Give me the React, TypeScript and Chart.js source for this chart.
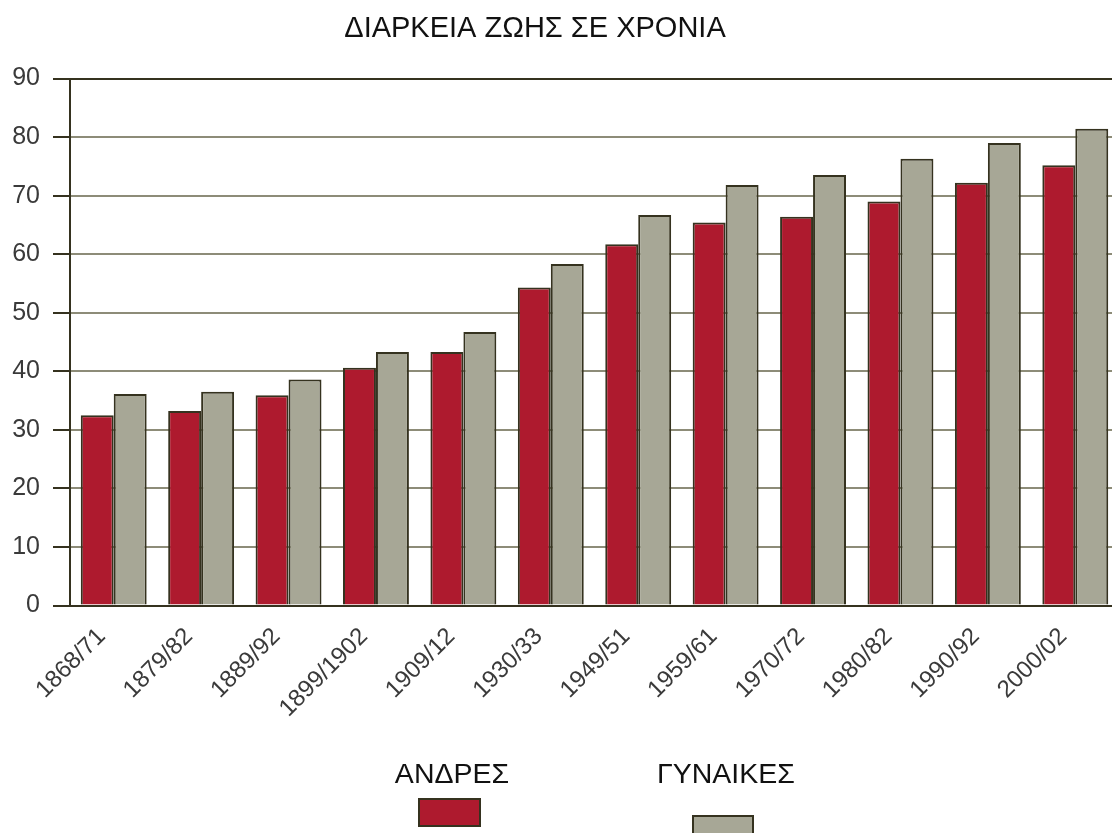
import React, { useEffect, useRef } from "react";
import { Chart, registerables } from "chart.js";

Chart.register(...registerables);

const chartTitle = "ΔΙΑΡΚΕΙΑ ΖΩΗΣ ΣΕ ΧΡΟΝΙΑ";
const categories = [
  "1868/71",
  "1879/82",
  "1889/92",
  "1899/1902",
  "1909/12",
  "1930/33",
  "1949/51",
  "1959/61",
  "1970/72",
  "1980/82",
  "1990/92",
  "2000/02",
];
const menLabel = "ΑΝΔΡΕΣ";
const womenLabel = "ΓΥΝΑΙΚΕΣ";
const menValues = [32.5, 33.2, 35.9, 40.6, 43.3, 54.3, 61.7, 65.4, 66.4, 69.0, 72.2, 75.2];
const womenValues = [36.1, 36.5, 38.6, 43.3, 46.7, 58.3, 66.7, 71.8, 73.5, 76.3, 79.0, 81.4];
const yMin = 0;
const yMax = 90;
const yStep = 10;

const FONT = "'Liberation Sans', Arial, Helvetica, sans-serif";
const DARK = "#35321f";
const GRID = "#8d8c78";

const decorPlugin = {
  id: "decor",
  afterDraw(chart: any) {
    const ctx = chart.ctx;
    ctx.save();
    ctx.fillStyle = "#111";
    ctx.textAlign = "center";
    ctx.textBaseline = "alphabetic";
    ctx.font = `29px ${FONT}`;
    ctx.fillText(chartTitle, 535, 37);

    const textX = [452, 726];
    const boxes = [
      [418, 798, 63, 29],
      [692, 815, 62, 29],
    ];
    chart.data.datasets.forEach((ds: any, i: number) => {
      ctx.fillStyle = "#111";
      ctx.font = `28.5px ${FONT}`;
      ctx.fillText(ds.label, textX[i], 783);
      const [bx, by, bw, bh] = boxes[i];
      ctx.fillStyle = ds.backgroundColor;
      ctx.fillRect(bx, by, bw, bh);
      ctx.strokeStyle = ds.borderColor;
      ctx.lineWidth = 2;
      ctx.strokeRect(bx + 1, by + 1, bw - 2, bh - 2);
    });
    ctx.restore();
  },
};

export default function App() {
  const canvasRef = useRef<HTMLCanvasElement | null>(null);

  useEffect(() => {
    if (!canvasRef.current) return;
    const chart = new Chart(canvasRef.current, {
      type: "bar",
      data: {
        labels: categories,
        datasets: [
          {
            label: menLabel,
            data: menValues,
            backgroundColor: "#ae1a2e",
            borderColor: DARK,
            borderWidth: 2,
            categoryPercentage: 0.754,
            barPercentage: 1.0,
          },
          {
            label: womenLabel,
            data: womenValues,
            backgroundColor: "#a7a796",
            borderColor: DARK,
            borderWidth: 2,
            categoryPercentage: 0.754,
            barPercentage: 1.0,
          },
        ],
      },
      options: {
        animation: false,
        responsive: true,
        maintainAspectRatio: false,
        layout: { padding: { top: 78.5, right: 6, bottom: 0, left: 0 } },
        plugins: {
          legend: { display: false },
          title: { display: false },
          tooltip: { enabled: false },
        },
        scales: {
          x: {
            afterFit(scale: any) {
              scale.height = 227.5;
            },
            grid: { display: false, drawTicks: false },
            border: { display: true, color: DARK, width: 2 },
            ticks: {
              autoSkip: false,
              maxRotation: 45,
              minRotation: 45,
              padding: 17,
              labelOffset: -12,
              color: "#3a3a3a",
              font: { family: FONT, size: 24 },
            },
          },
          y: {
            min: yMin,
            max: yMax,
            afterFit(scale: any) {
              scale.width = 70;
            },
            grid: {
              color: (c: any) =>
                c.tick && (c.tick.value === yMax || c.tick.value === yMin) ? DARK : GRID,
              tickColor: DARK,
              lineWidth: 2,
              tickLength: 17,
            },
            border: { display: true, color: DARK, width: 2 },
            ticks: {
              stepSize: yStep,
              padding: 13,
              color: "#3a3a3a",
              font: { family: FONT, size: 25 },
            },
          },
        },
      },
      plugins: [decorPlugin],
    } as any);
    return () => chart.destroy();
  }, []);

  return (
    <div
      style={{
        position: "absolute",
        left: 0,
        top: 0,
        width: 1112,
        height: 833,
        overflow: "hidden",
        background: "#fff",
      }}
    >
      <div style={{ position: "relative", width: 1125, height: 833 }}>
        <canvas ref={canvasRef} />
      </div>
    </div>
  );
}
